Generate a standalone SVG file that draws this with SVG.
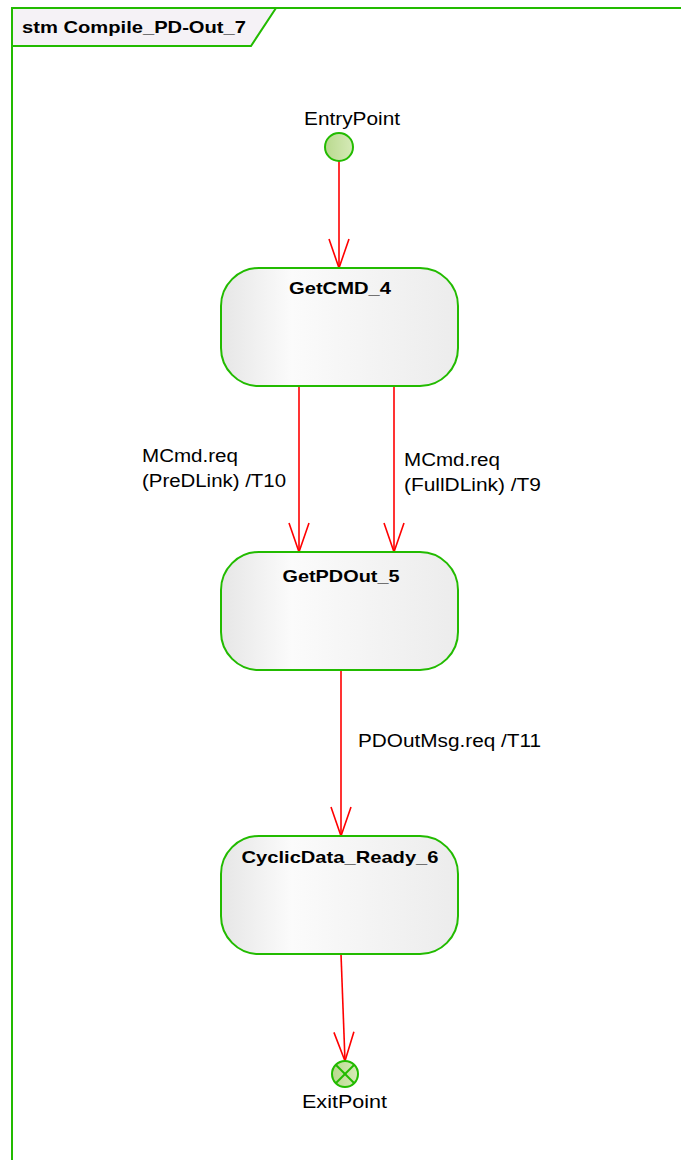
<svg xmlns="http://www.w3.org/2000/svg" width="681" height="1160" viewBox="0 0 681 1160">
  <style>
    .frame { fill: none; stroke: #22bb00; stroke-width: 2; }
    .tab { fill: #f5f2f6; stroke: #22bb00; stroke-width: 2; }
    .tabtext { font-family: "Liberation Sans", Arial, sans-serif; font-size: 17px; font-weight: bold; fill: #000; }
    .state { fill: url(#stateFill); stroke: #22bb00; stroke-width: 2; }
    .title { font-family: "Liberation Sans", Arial, sans-serif; font-size: 17px; font-weight: bold; fill: #000; text-anchor: middle; }
    .label { font-family: "Liberation Sans", Arial, sans-serif; font-size: 18px; fill: #000; }
    .pseudo { fill: url(#pointFill); stroke: #22bb00; stroke-width: 2; }
    .edge { fill: none; stroke: #ff0000; stroke-width: 1.6; marker-end: url(#openArrow); }
  </style>
  <defs>
    <linearGradient id="stateFill" x1="0" y1="0" x2="1" y2="0">
      <stop offset="0" stop-color="#e6e6e6"/>
      <stop offset="0.3" stop-color="#fbfbfb"/>
      <stop offset="1" stop-color="#ececec"/>
    </linearGradient>
    <linearGradient id="pointFill" x1="0" y1="0" x2="1" y2="0">
      <stop offset="0" stop-color="#b9d98e"/>
      <stop offset="1" stop-color="#d6eab8"/>
    </linearGradient>
    <marker id="openArrow" markerUnits="userSpaceOnUse" viewBox="-31 -12 33 24" markerWidth="33" markerHeight="24" refX="0" refY="0" orient="auto">
      <path d="M -29 -10 L 0 0 L -29 10" fill="none" stroke="#ff0000" stroke-width="1.6"/>
    </marker>
  </defs>

  <rect width="681" height="1160" fill="#ffffff"/>

  <!-- state machine frame -->
  <g id="frame">
    <rect class="frame" x="12" y="8" width="720" height="1200"/>
    <path class="tab" d="M 12 8 L 276 8 L 251 46 L 12 46 Z"/>
    <text class="tabtext" x="22" y="33" textLength="224" lengthAdjust="spacingAndGlyphs">stm Compile_PD-Out_7</text>
  </g>

  <!-- transitions -->
  <g id="connectors">
    <line class="edge" x1="339" y1="161" x2="339" y2="268"/>
    <line class="edge" x1="299" y1="386" x2="299" y2="552"/>
    <line class="edge" x1="394" y1="386" x2="394" y2="552"/>
    <line class="edge" x1="341" y1="670" x2="341" y2="836"/>
    <line class="edge" x1="341" y1="954" x2="345" y2="1061"/>
    <text class="label" x="142" y="462" textLength="96" lengthAdjust="spacingAndGlyphs">MCmd.req</text>
    <text class="label" x="142" y="487" textLength="144" lengthAdjust="spacingAndGlyphs">(PreDLink) /T10</text>
    <text class="label" x="404" y="466" textLength="96" lengthAdjust="spacingAndGlyphs">MCmd.req</text>
    <text class="label" x="404" y="491" textLength="137" lengthAdjust="spacingAndGlyphs">(FullDLink) /T9</text>
    <text class="label" x="358" y="747" textLength="183" lengthAdjust="spacingAndGlyphs">PDOutMsg.req /T11</text>
  </g>

  <!-- entry point -->
  <g id="EntryPoint">
    <circle class="pseudo" cx="339" cy="147" r="14"/>
    <text class="label" x="304" y="125" textLength="96" lengthAdjust="spacingAndGlyphs">EntryPoint</text>
  </g>

  <!-- states -->
  <g id="GetCMD_4">
    <rect class="state" x="221" y="268" width="237" height="118" rx="38" ry="38"/>
    <text class="title" x="340" y="294" textLength="102" lengthAdjust="spacingAndGlyphs">GetCMD_4</text>
  </g>
  <g id="GetPDOut_5">
    <rect class="state" x="221" y="552" width="237" height="118" rx="38" ry="38"/>
    <text class="title" x="341" y="582" textLength="117" lengthAdjust="spacingAndGlyphs">GetPDOut_5</text>
  </g>
  <g id="CyclicData_Ready_6">
    <rect class="state" x="221" y="836" width="237" height="118" rx="38" ry="38"/>
    <text class="title" x="340" y="863" textLength="197" lengthAdjust="spacingAndGlyphs">CyclicData_Ready_6</text>
  </g>

  <!-- exit point -->
  <g id="ExitPoint">
    <circle class="pseudo" cx="345" cy="1074" r="13"/>
    <line x1="336" y1="1065" x2="354" y2="1083" stroke="#22bb00" stroke-width="2"/>
    <line x1="354" y1="1065" x2="336" y2="1083" stroke="#22bb00" stroke-width="2"/>
    <text class="label" x="302" y="1108" textLength="85" lengthAdjust="spacingAndGlyphs">ExitPoint</text>
  </g>
</svg>
